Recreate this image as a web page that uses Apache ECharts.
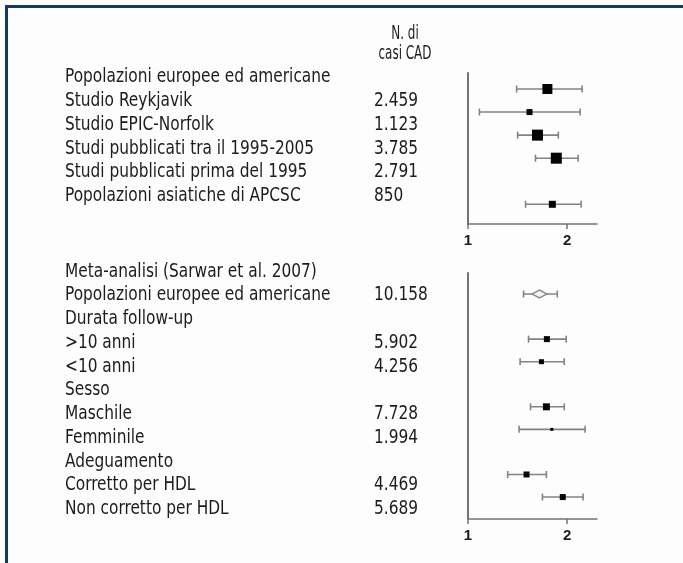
<!DOCTYPE html>
<html>
<head>
<meta charset="utf-8">
<script src="https://cdn.jsdelivr.net/npm/echarts@6/dist/echarts.min.js"></script>
<style>
html,body{margin:0;padding:0;background:#fdfdfd;}
#c{width:683px;height:563px;}
</style>
</head>
<body>
<div id="c"></div>
<script>
// ---- Data ----
const headerText = ['N. di', 'casi CAD'];
const xTicks = [1, 2];

const topLabels = ['Popolazioni europee ed americane', 'Studio Reykjavik', 'Studio EPIC-Norfolk',
  'Studi pubblicati tra il 1995-2005', 'Studi pubblicati prima del 1995', 'Popolazioni asiatiche di APCSC'];
const topCases = ['', '2.459', '1.123', '3.785', '2.791', '850'];
const topRow = [0, 1, 2, 3, 5];
const topEst = [1.80, 1.62, 1.70, 1.89, 1.85];
const topLo = [1.49, 1.115, 1.50, 1.68, 1.58];
const topHi = [2.15, 2.13, 1.91, 2.11, 2.14];
const topWeight = [10, 6, 11, 11, 7];

const botLabels = ['Meta-analisi (Sarwar et al. 2007)', 'Popolazioni europee ed americane', 'Durata follow-up',
  '>10 anni', '<10 anni', 'Sesso', 'Maschile', 'Femminile', 'Adeguamento', 'Corretto per HDL', 'Non corretto per HDL'];
const botCases = ['', '10.158', '', '5.902', '4.256', '', '7.728', '1.994', '', '4.469', '5.689'];
const botRow = [1, 3, 4, 6, 7, 9, 10];
const botEst = [1.72, 1.795, 1.74, 1.79, 1.845, 1.59, 1.955];
const botLo = [1.56, 1.61, 1.525, 1.63, 1.515, 1.40, 1.75];
const botHi = [1.90, 1.99, 1.97, 1.97, 2.18, 1.79, 2.16];
const botWeight = [0, 6, 5, 7, 3, 6, 6]; // 0 = pooled estimate (diamond)

// ---- Styles ----
const FONT = '"DejaVu Sans Condensed", "Liberation Sans Narrow", sans-serif';
const TXT = '#1e1b1c';
const AX = '#787070';
const BAR = '#8a8080';
const SQX = 0.9;

const chart = echarts.init(document.getElementById('c'), null, {renderer: 'canvas'});

function textSeries(xi, yi, labels, cases) {
  return {
    type: 'custom', xAxisIndex: xi, yAxisIndex: yi, silent: true,
    data: labels.map((l, i) => [i]),
    encode: {y: 0},
    renderItem: function (params, api) {
      const i = params.dataIndex;
      const p0 = api.coord([0, api.value(0)]);
      const p1 = api.coord([1, api.value(0)]);
      const mk = (t, p) => ({
        type: 'text', x: p[0], y: p[1], scaleX: SQX,
        style: {text: t, x: 0, y: 0, fontFamily: FONT, fontSize: 19, fill: TXT,
          align: 'left', verticalAlign: 'middle'}
      });
      return {type: 'group', children: [mk(labels[i], p0), mk(cases[i], p1)]};
    }
  };
}

function hidden(gridIndex, mn, mx, inv) {
  return {type: 'value', gridIndex: gridIndex, min: mn, max: mx, inverse: !!inv, show: false};
}

function plotX(gridIndex) {
  return {
    type: 'value', gridIndex: gridIndex, min: 1, max: 2.3, interval: 1,
    axisLine: {show: true, onZero: false, lineStyle: {color: AX, width: 1.5}},
    axisTick: {show: true, length: 5, customValues: xTicks, lineStyle: {color: AX, width: 1.5}},
    splitLine: {show: false},
    axisLabel: {
      margin: 9, color: TXT, fontFamily: 'Liberation Sans, Arial, sans-serif', fontWeight: 'bold', fontSize: 15,
      customValues: xTicks,
      formatter: v => (xTicks.indexOf(v) >= 0 ? String(v) : '')
    }
  };
}
function plotY(gridIndex, mn, mx) {
  return {
    type: 'value', gridIndex: gridIndex, min: mn, max: mx, inverse: true,
    axisLine: {show: true, onZero: false, lineStyle: {color: AX, width: 2}},
    axisTick: {show: false}, axisLabel: {show: false}, splitLine: {show: false}
  };
}

function errorSeries(xi, yi, lo, hi, rows) {
  return {
    type: 'custom', xAxisIndex: xi, yAxisIndex: yi, z: 2, silent: true,
    data: rows.map((r, i) => [lo[i], hi[i], r]),
    encode: {x: [0, 1], y: 2},
    renderItem: function (params, api) {
      const a = api.coord([api.value(0), api.value(2)]);
      const b = api.coord([api.value(1), api.value(2)]);
      const h = 3.5;
      const st = {stroke: BAR, lineWidth: 1.6};
      return {
        type: 'group', children: [
          {type: 'line', shape: {x1: a[0], y1: a[1], x2: b[0], y2: b[1]}, style: st},
          {type: 'line', shape: {x1: a[0], y1: a[1] - h, x2: a[0], y2: a[1] + h}, style: st},
          {type: 'line', shape: {x1: b[0], y1: b[1] - h, x2: b[0], y2: b[1] + h}, style: st}
        ]
      };
    }
  };
}

function pointSeries(xi, yi, est, rows, weight) {
  return {
    type: 'scatter', xAxisIndex: xi, yAxisIndex: yi, z: 5, silent: true,
    data: rows.map((r, i) => {
      if (weight[i] === 0) {
        return {value: [est[i], r], symbol: 'diamond', symbolSize: [15, 8],
          itemStyle: {color: '#f4f4f4', borderColor: '#8a8a8a', borderWidth: 1.5, opacity: 1}};
      }
      return {value: [est[i], r], symbol: 'rect', symbolSize: weight[i],
        itemStyle: {color: '#050505', opacity: 1}};
    })
  };
}

const option = {
  backgroundColor: '#fdfdfd',
  animation: false,
  grid: [
    {left: 65, width: 309, top: 65.65, height: 142.2},   // top labels
    {left: 65, width: 309, top: 259.8, height: 261.4},   // bottom labels
    {left: 468, width: 129, top: 73, height: 151},       // top plot
    {left: 468, width: 129, top: 273, height: 246}       // bottom plot
  ],
  xAxis: [
    hidden(0, 0, 1), hidden(1, 0, 1),
    plotX(2), plotX(3)
  ],
  yAxis: [
    hidden(0, -0.5, topLabels.length - 0.5, true),
    hidden(1, -0.5, botLabels.length - 0.5, true),
    plotY(2, -0.694, 5.854),
    plotY(3, 0.069, 10.973)
  ],
  series: [
    textSeries(0, 0, topLabels, topCases),
    textSeries(1, 1, botLabels, botCases),
    errorSeries(2, 2, topLo, topHi, topRow),
    pointSeries(2, 2, topEst, topRow, topWeight),
    errorSeries(3, 3, botLo, botHi, botRow),
    pointSeries(3, 3, botEst, botRow, botWeight)
  ],
  graphic: [
    {type: 'line', shape: {x1: 5, y1: 6.5, x2: 683, y2: 6.5}, style: {stroke: '#123a63', lineWidth: 3}},
    {type: 'line', shape: {x1: 6.5, y1: 5, x2: 6.5, y2: 563}, style: {stroke: '#123a63', lineWidth: 3}},
    {type: 'text', x: 405, y: 34, scaleX: 0.7,
      style: {text: headerText[0], x: 0, y: 0, align: 'center', verticalAlign: 'middle',
        fontFamily: FONT, fontSize: 19, fill: TXT}},
    {type: 'text', x: 405, y: 54, scaleX: 0.7,
      style: {text: headerText[1], x: 0, y: 0, align: 'center', verticalAlign: 'middle',
        fontFamily: FONT, fontSize: 19, fill: TXT}}
  ]
};
chart.setOption(option);
</script>
</body>
</html>
